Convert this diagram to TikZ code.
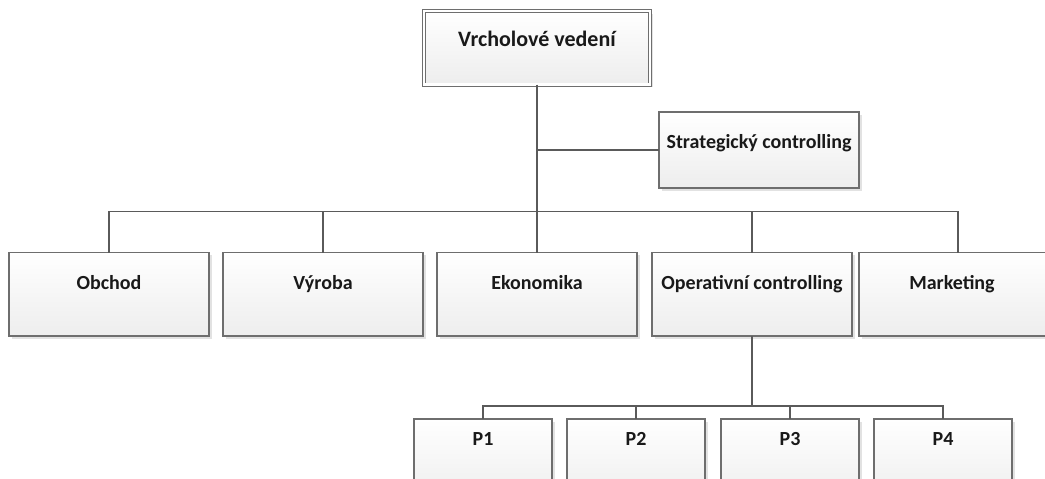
\documentclass[tikz,border=0pt]{standalone}
\usepackage{fontspec}
\setmainfont{Carlito}
\usetikzlibrary{shadows}
\definecolor{bordergray}{HTML}{6E6E6E}
\definecolor{linegray}{HTML}{5A5A5A}
\tikzset{
  orgbox/.style={draw=bordergray, line width=1.2pt, rectangle, inner sep=0pt, outer sep=0pt,
    anchor=north west, top color=white, bottom color=black!7,
    drop shadow={shadow xshift=2.5pt, shadow yshift=-2.5pt, fill=black!25, opacity=0.45}},
  boxtext/.style={font=\bfseries\fontsize{20}{22}\selectfont, text=black!90, anchor=base},
  conn/.style={draw=linegray, line width=1.4pt},
}
\begin{document}
\begin{tikzpicture}[x=1pt, y=-1pt]
\useasboundingbox (0,0) rectangle (1045,479);
\clip (0,0) rectangle (1045,479);
% top box
\node[orgbox, double=white, double distance=2.2pt, draw=bordergray, line width=0.9pt,
      minimum width=226pt, minimum height=73.5pt,
      label={[boxtext, font=\bfseries\fontsize{22}{24}\selectfont, yshift=-35pt]north:Vrcholové vedení}] (top) at (424,11) {};
\node[orgbox, minimum width=200pt, minimum height=76pt,
      label={[boxtext, yshift=-36pt]north:Strategický controlling}] (strat) at (659,112) {};
% middle row
\node[orgbox, minimum width=200pt, minimum height=83.5pt,
      label={[boxtext, yshift=-37pt]north:Obchod}] (obchod) at (9,252.5) {};
\node[orgbox, minimum width=200pt, minimum height=83.5pt,
      label={[boxtext, yshift=-37pt]north:Výroba}] (vyroba) at (223,252.5) {};
\node[orgbox, minimum width=200pt, minimum height=83.5pt,
      label={[boxtext, yshift=-37pt]north:Ekonomika}] (ekonomika) at (437,252.5) {};
\node[orgbox, minimum width=200pt, minimum height=83.5pt,
      label={[boxtext, yshift=-37pt]north:Operativní controlling}] (oper) at (652,252.5) {};
\node[orgbox, minimum width=198pt, minimum height=83.5pt,
      label={[boxtext, yshift=-37pt, xshift=-6pt]north:Marketing}] (marketing) at (859,252.5) {};
% bottom row
\node[orgbox, minimum width=138pt, minimum height=83pt,
      label={[boxtext, yshift=-26pt]north:P1}] (p1) at (414,419) {};
\node[orgbox, minimum width=138pt, minimum height=83pt,
      label={[boxtext, yshift=-26pt]north:P2}] (p2) at (567,419) {};
\node[orgbox, minimum width=138pt, minimum height=83pt,
      label={[boxtext, yshift=-26pt]north:P3}] (p3) at (721,419) {};
\node[orgbox, minimum width=138pt, minimum height=83pt,
      label={[boxtext, yshift=-26pt]north:P4}] (p4) at (874,419) {};
% connectors
\coordinate (bus) at (537,211.5);
\coordinate (pbus) at (752,406);
\draw[conn] (top.south) -- (bus);
\draw[conn] (top.south |- strat.west) -- (strat.west);
\draw[conn] (obchod.north) |- (bus) -| (marketing.north);
\draw[conn] (vyroba.north) -- (vyroba.north |- bus);
\draw[conn] (ekonomika.north) -- (ekonomika.north |- bus);
\draw[conn] (oper.north) -- (oper.north |- bus);
\draw[conn] (oper.south) -- (pbus);
\draw[conn] (p1.north) |- (pbus) -| (p4.north);
\draw[conn] (p2.north) -- (p2.north |- pbus);
\draw[conn] (p3.north) -- (p3.north |- pbus);
\end{tikzpicture}
\end{document}
